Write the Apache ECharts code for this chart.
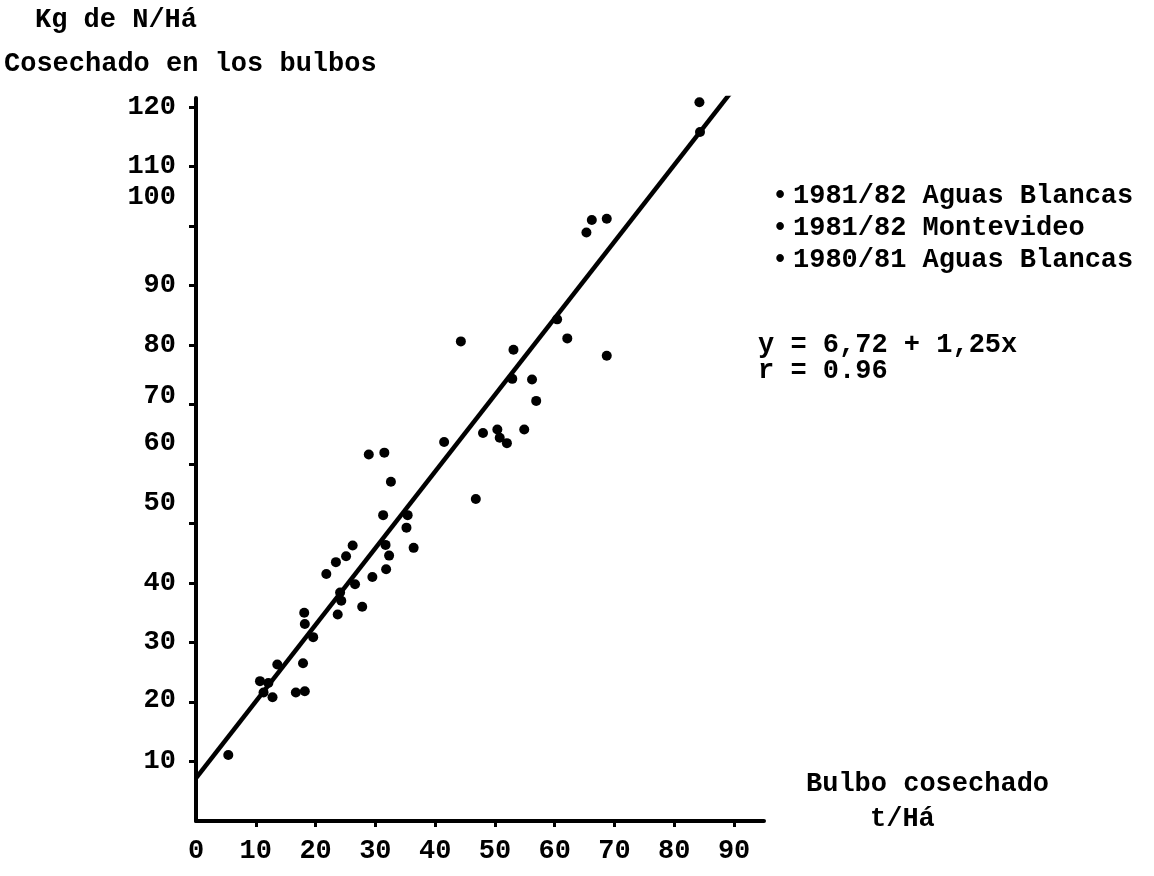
<!DOCTYPE html>
<html>
<head>
<meta charset="utf-8">
<script src="https://cdn.jsdelivr.net/npm/echarts@6/dist/echarts.min.js"></script>
<style>
  html, body { margin: 0; padding: 0; background: #fff; }
  #chart { width: 1154px; height: 876px; }
</style>
</head>
<body>
<div id="chart"></div>
<script>
// ---- data ----
const bulbYield = [84.2, 84.3, 66.2, 68.7, 65.3, 60.4, 62.1, 44.3, 53.1, 68.7,
  52.9, 56.2, 56.9, 54.9, 50.4, 50.8, 52.0, 48.0, 41.5, 46.8,
  28.9, 31.5, 32.6, 31.3, 35.4, 35.2, 36.4, 31.7, 32.3, 31.8,
  29.5, 26.2, 25.1, 23.4, 21.8, 26.6, 24.1, 24.3, 23.7, 27.8,
  18.1, 18.2, 19.6, 17.9, 13.6, 10.7, 12.1, 11.3, 12.8, 16.7,
  18.2, 5.4];
const nitrogen = [120.8, 115.8, 101.0, 101.2, 98.9, 84.3, 81.1, 80.6, 79.2, 78.2,
  74.3, 74.2, 70.6, 65.8, 65.8, 64.4, 63.5, 65.2, 63.7, 54.1,
  61.6, 61.9, 57.0, 51.4, 51.4, 49.3, 45.9, 46.4, 44.6, 42.3,
  41.0, 46.3, 44.5, 43.5, 41.5, 39.8, 38.4, 37.0, 34.7, 36.0,
  35.0, 33.1, 30.9, 26.5, 26.3, 23.5, 23.2, 21.6, 20.8, 21.6,
  21.8, 11.1];
const lineX = [0, 90.2];
const lineY = [7.2, 123.4];
const xTickValues = [0, 10, 20, 30, 40, 50, 60, 70, 80, 90];
const yTickValues = [10, 20, 30, 40, 50, 60, 70, 80, 90, 100, 110, 120];
const legendLabels = ['1981/82 Aguas Blancas', '1981/82 Montevideo', '1980/81 Aguas Blancas'];
const yTitle = ['Kg de N/Há', 'Cosechado en los bulbos'];
const xTitle = ['Bulbo cosechado', 't/Há'];
const equation = ['y = 6,72 + 1,25x', 'r = 0.96'];

// ---- styles ----
const FONT = '"Liberation Mono", "DejaVu Sans Mono", monospace';
const FS = 27;
const base = { fontFamily: FONT, fontSize: FS, fontWeight: 'bold', color: '#000' };
// vertical shift of typed y labels relative to their ticks (px, negative = up)
const yShift = { 100: -29, 80: 0, 70: -8, 60: -21, 50: -20, 20: -2 };
const rich = {};
yTickValues.forEach(v => {
  const s = yShift[v] || 0;
  rich['o' + v] = Object.assign({}, base, {
    padding: s < 0 ? [0, 0, -2 * s, 0] : [2 * s, 0, 0, 0]
  });
});

const points = bulbYield.map((x, i) => [x, nitrogen[i]]);
const linePts = lineX.map((x, i) => [x, lineY[i]]);

const chart = echarts.init(document.getElementById('chart'), null, { renderer: 'canvas' });
const option = {
  backgroundColor: '#fff',
  animation: false,
  grid: { left: 196, top: 98, width: 568, height: 723 },
  xAxis: {
    type: 'value', min: 0, max: 95,
    splitLine: { show: false },
    axisLine: { onZero: false, lineStyle: { color: '#000', width: 4 } },
    axisTick: { show: true, customValues: xTickValues.slice(1), length: 6, lineStyle: { color: '#000', width: 3 } },
    axisLabel: Object.assign({ customValues: xTickValues, margin: 17 }, base)
  },
  yAxis: {
    type: 'value', min: 0, max: 121.5,
    splitLine: { show: false },
    axisLine: { onZero: false, lineStyle: { color: '#000', width: 4 } },
    axisTick: { show: true, customValues: yTickValues, length: 7, lineStyle: { color: '#000', width: 3 } },
    axisLabel: Object.assign({
      customValues: yTickValues, margin: 20,
      formatter: v => '{o' + v + '|' + v + '}',
      rich: rich
    }, base)
  },
  series: [
    {
      type: 'line', data: linePts, showSymbol: false, symbol: 'none',
      lineStyle: { color: '#000', width: 4.5 }, z: 3
    },
    {
      type: 'scatter', data: points, symbol: 'circle', symbolSize: 10,
      itemStyle: { color: '#000', opacity: 1 }, z: 4
    }
  ],
  graphic: [
    { type: 'text', left: 35, top: 7, style: Object.assign({ text: yTitle[0] }, base) },
    { type: 'text', left: 4, top: 51, style: Object.assign({ text: yTitle[1] }, base) },
    { type: 'text', left: 772, top: 183, style: Object.assign({ text: '•' }, base) },
    { type: 'text', left: 772, top: 215, style: Object.assign({ text: '•' }, base) },
    { type: 'text', left: 772, top: 247, style: Object.assign({ text: '•' }, base) },
    { type: 'text', left: 793, top: 183, style: Object.assign({ text: legendLabels[0] }, base) },
    { type: 'text', left: 793, top: 215, style: Object.assign({ text: legendLabels[1] }, base) },
    { type: 'text', left: 793, top: 247, style: Object.assign({ text: legendLabels[2] }, base) },
    { type: 'text', left: 758, top: 332, style: Object.assign({ text: equation[0] }, base) },
    { type: 'text', left: 758, top: 358, style: Object.assign({ text: equation[1] }, base) },
    { type: 'text', left: 806, top: 771, style: Object.assign({ text: xTitle[0] }, base) },
    { type: 'text', left: 870, top: 806, style: Object.assign({ text: xTitle[1] }, base) }
  ]
};
chart.setOption(option);
</script>
</body>
</html>
